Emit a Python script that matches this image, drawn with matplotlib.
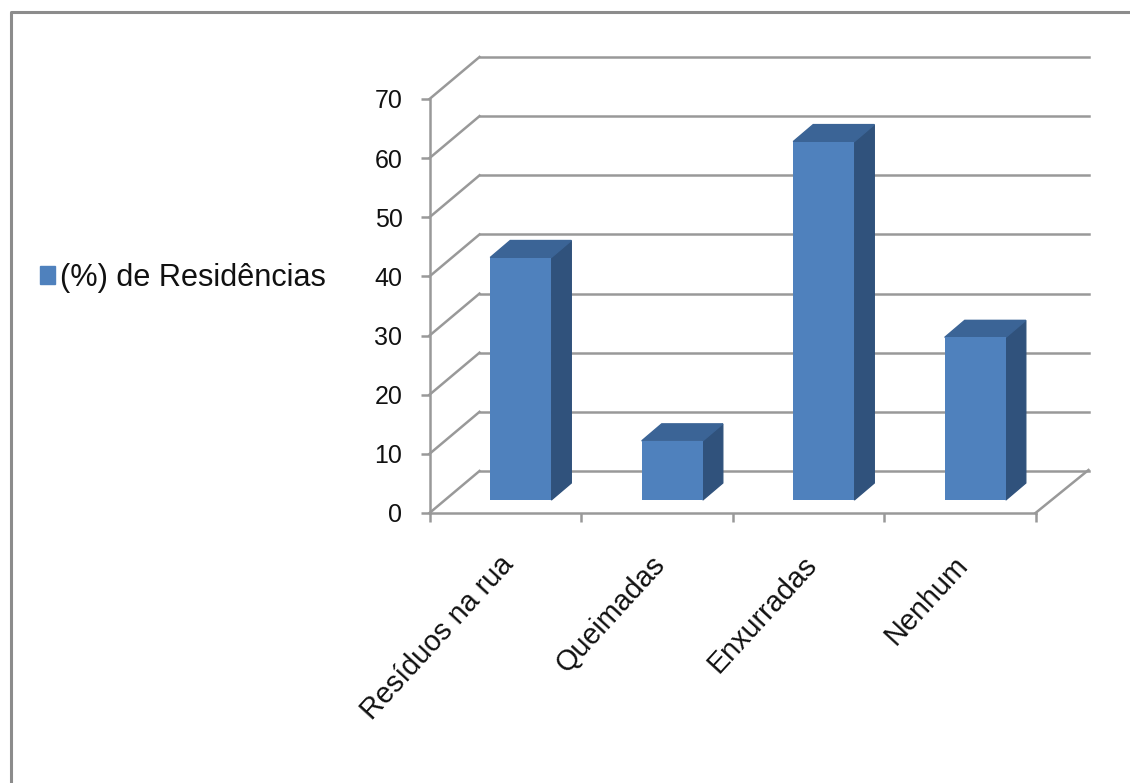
#!/usr/bin/env python3
"""Excel style pseudo-3D column chart, depth done with pixel offsets."""
import matplotlib
matplotlib.use('Agg')
import matplotlib.pyplot as plt
from matplotlib.patches import Patch, Polygon
from matplotlib.transforms import Affine2D, IdentityTransform

categories = ['Resíduos na rua', 'Queimadas', 'Enxurradas', 'Nenhum']
values = [41, 10, 60.6, 27.5]
y_ticks = [0, 10, 20, 30, 40, 50, 60, 70]
series_name = '(%) de Residências'

W, H = 1130, 783
GREY = '#999999'
FRONT, SIDE, TOP = '#4f81bd', '#30527c', '#3b6496'
plt.rcParams['font.family'] = ['Liberation Sans', 'DejaVu Sans']

fig = plt.figure(figsize=(W / 100, H / 100), dpi=100)
# axes box in pixels: x 430-1036, y 99-513 from the top
ax = fig.add_axes([429.5 / W, 1 - 513 / H, 606 / W, 414 / H])
ax.set_xlim(0, len(categories))
ax.set_ylim(0, 70)
ax.patch.set_visible(False)

# pixel shifts for the fake depth
wall = ax.transData + Affine2D().translate(50, 42)
bar_front = ax.transData + Affine2D().translate(15.5, 13)
bar_back = ax.transData + Affine2D().translate(35.5, 30)

# gridlines: diagonal on the side wall, then straight along the back wall
for t in y_ticks:
    ax.plot([0, 50 / 151.5], [t, t + 42 * 70 / 414], color=GREY, lw=1.8, clip_on=False, zorder=1)
    ax.plot([0, len(categories) + 0.02], [t, t], color=GREY, lw=1.8, clip_on=False, zorder=1, transform=wall)
ax.plot([4, 4 + 53 / 151.5], [0, 43 * 70 / 414], color=GREY, lw=1.8, clip_on=False, zorder=1)

width = 0.403
for i, v in enumerate(values):
    x0, x1 = i + 0.5 - width / 2, i + 0.5 + width / 2
    ax.bar(i + 0.5, v, width, color=FRONT, transform=bar_front, clip_on=False, zorder=4)
    # side and top faces, corners converted to display pixels
    p = bar_front.transform([(x1, 0), (x1, v), (x0, v)])
    q = bar_back.transform([(x1, 0), (x1, v), (x0, v)])
    ax.add_patch(Polygon([p[0], p[1], q[1], q[0]], closed=True, color=SIDE,
                         transform=IdentityTransform(), clip_on=False, zorder=3))
    ax.add_patch(Polygon([p[2], p[1], q[1], q[2]], closed=True, color=TOP,
                         transform=IdentityTransform(), clip_on=False, zorder=3))

for s in ['top', 'right']:
    ax.spines[s].set_visible(False)
for s in ['left', 'bottom']:
    ax.spines[s].set_color(GREY)
    ax.spines[s].set_linewidth(1.8)

ax.set_yticks(y_ticks)
ax.set_xticks(range(len(categories) + 1))
ax.set_xticklabels([])
ax.tick_params(axis='both', which='major', color=GREY, width=1.8, length=6.5, labelsize=18, pad=13)
ax.tick_params(axis='y', labelcolor='#111111')
# labels sit a few pixels left of the category centre
ax.set_xticks([i + 0.457 for i in range(len(categories))], minor=True)
ax.set_xticklabels(categories, minor=True, rotation=47.5, ha='right', rotation_mode='anchor',
                   fontsize=20.7, color='#111111')
ax.tick_params(axis='x', which='minor', length=0, pad=27)

ax.legend(handles=[Patch(color=FRONT, label=series_name)], loc='center left',
          bbox_to_anchor=(40 / W, 1 - 278 / H), bbox_transform=fig.transFigure,
          frameon=False, fontsize=22.1, handlelength=0.5, handleheight=0.5,
          handletextpad=0.14, borderpad=0, borderaxespad=0, labelcolor='#111111')

# outer frame: only top and left edges show in the crop
fig.add_artist(plt.Line2D([1130 / W, 10.5 / W, 10.5 / W], [1 - 12 / H, 1 - 12 / H, 0],
                          color='#8c8c8c', lw=2.2, transform=fig.transFigure))

fig.savefig('out.png', dpi=100)
